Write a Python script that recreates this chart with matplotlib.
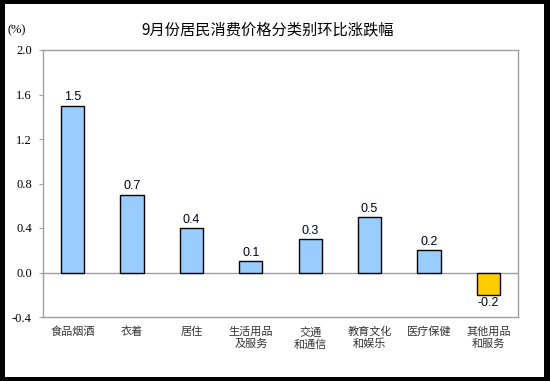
import matplotlib
matplotlib.use("Agg")
import matplotlib.pyplot as plt
from matplotlib.patches import Rectangle

categories = ["食品烟酒", "衣着", "居住", "生活用品\n及服务", "交通\n和通信",
              "教育文化\n和娱乐", "医疗保健", "其他用品\n和服务"]
values = [1.5, 0.7, 0.4, 0.1, 0.3, 0.5, 0.2, -0.2]
yticks = [-0.4, 0.0, 0.4, 0.8, 1.2, 1.6, 2.0]

cjk = ["Noto Sans CJK SC", "DejaVu Sans"]

fig = plt.figure(figsize=(5.5, 3.81), dpi=100, facecolor="black")
# white panel inside black frame
fig.patches.append(Rectangle((5 / 550, 4 / 381), 539 / 550, 373 / 381,
                             transform=fig.transFigure, facecolor="white",
                             edgecolor="none", zorder=-10))

ax = fig.add_axes([43 / 550, 64 / 381, 475 / 550, 267 / 381])
ax.set_facecolor("white")

colors = ["#99ccff" if v >= 0 else "#ffcc00" for v in values]
x = range(len(values))
ax.bar(x, values, width=0.39, color=colors, edgecolor="black", linewidth=1.0, zorder=3)
ax.axhline(0, color="#a0a0a0", linewidth=1.0, zorder=2)

for i, v in enumerate(values):
    if v >= 0:
        ax.text(i, v + 0.02, f"{v:.1f}", ha="center", va="bottom",
                fontsize=9, family="Liberation Sans", color="#000022")
    else:
        ax.text(i, v - 0.02, f"{v:.1f}", ha="center", va="top",
                fontsize=9, family="Liberation Sans", color="#000022")

ax.set_xlim(-0.5, len(values) - 0.5)
ax.set_ylim(-0.4, 2.0)
ax.set_yticks(yticks)
ax.set_yticklabels([f"{t:.1f}" for t in yticks], family="Liberation Serif", fontsize=9)
ax.tick_params(axis="y", direction="out", length=3, color="#a0a0a0", pad=5)
ax.set_xticks(list(x))
ax.set_xticklabels(categories, family=cjk, fontsize=8, color="#333333",
                   linespacing=1.2, va="top")
ax.tick_params(axis="x", length=0, pad=7)

for s in ax.spines.values():
    s.set_color("#a0a0a0")
    s.set_linewidth(1.0)

fig.text(268 / 550, 1 - 30 / 381, "9月份居民消费价格分类别环比涨跌幅", ha="center",
         va="center", family=cjk, fontsize=11, color="black")
fig.text(8 / 550, 1 - 30 / 381, "(%)", ha="left", va="center",
         family="Liberation Serif", fontsize=9, color="black")

fig.savefig("out.png", dpi=100, facecolor="black")
